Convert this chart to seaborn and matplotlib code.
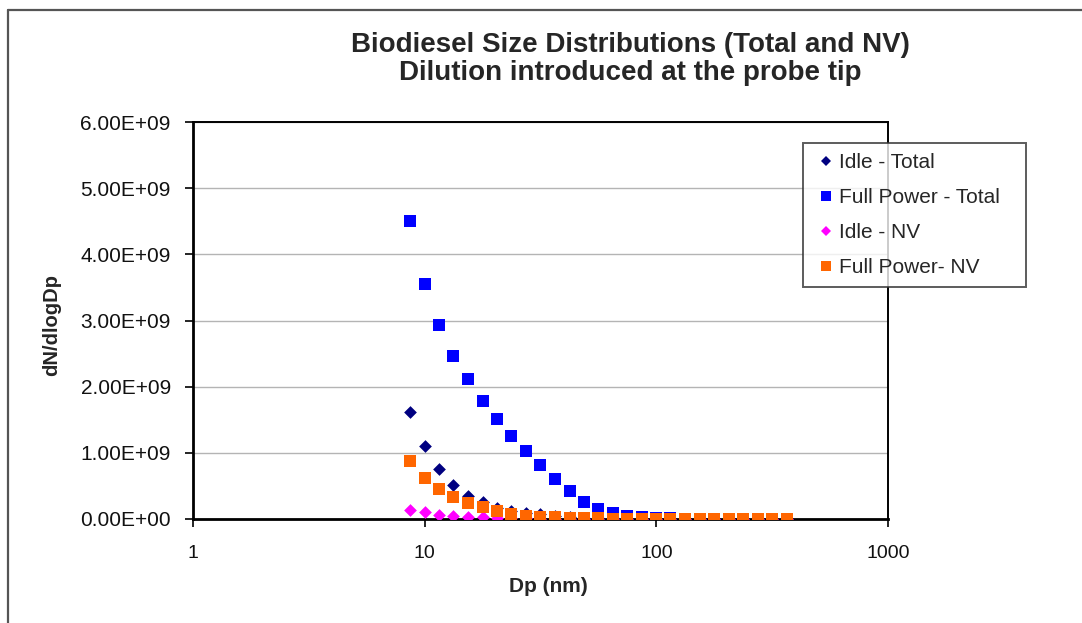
import matplotlib
matplotlib.use("Agg")
import matplotlib.pyplot as plt
import numpy as np
import pandas as pd
import seaborn as sns
from matplotlib.lines import Line2D
from matplotlib.ticker import FixedLocator, FuncFormatter, NullLocator

# Particle diameters (nm), 16 channels per decade
dp_nm = [8.66, 10.0, 11.5, 13.3, 15.4, 17.8, 20.5, 23.7, 27.4, 31.6, 36.5, 42.2,
         48.7, 56.2, 64.9, 75.0, 86.6, 100, 115, 133, 154, 178, 205, 237, 274,
         316, 365]

# dN/dlogDp for each condition
idle_total = [1.62e9, 1.10e9, 0.76e9, 0.51e9, 0.35e9, 0.25e9, 0.17e9, 0.12e9,
              0.09e9, 0.07e9, 0.05e9, 0.035e9, 0.02e9, 0.012e9, 0.008e9, 0.005e9,
              0.004e9, 0.003e9, 0.002e9, 0.002e9, 0.001e9, 0.001e9, 0.001e9,
              0.001e9, 0.001e9, 0.001e9, 0.001e9]
full_total = [4.51e9, 3.55e9, 2.93e9, 2.47e9, 2.11e9, 1.79e9, 1.51e9, 1.25e9,
              1.03e9, 0.82e9, 0.60e9, 0.42e9, 0.26e9, 0.15e9, 0.09e9, 0.05e9,
              0.025e9, 0.012e9, 0.008e9, 0.006e9, 0.005e9, 0.004e9, 0.004e9,
              0.003e9, 0.003e9, 0.002e9, 0.002e9]
idle_nv = [0.14e9, 0.10e9, 0.065e9, 0.045e9, 0.035e9, 0.025e9, 0.018e9, 0.012e9,
           0.008e9, 0.006e9, 0.004e9, 0.003e9, 0.002e9, 0.002e9, 0.001e9, 0.001e9,
           0.001e9, 0.001e9, 0.001e9, 0.001e9, 0.001e9, 0.001e9, 0.001e9,
           0.001e9, 0.001e9, 0.001e9, 0.001e9]
full_nv = [0.88e9, 0.62e9, 0.46e9, 0.34e9, 0.24e9, 0.18e9, 0.12e9, 0.08e9,
           0.05e9, 0.035e9, 0.025e9, 0.018e9, 0.012e9, 0.009e9, 0.007e9, 0.006e9,
           0.005e9, 0.005e9, 0.004e9, 0.004e9, 0.004e9, 0.003e9, 0.003e9,
           0.003e9, 0.002e9, 0.002e9, 0.002e9]

series_names = ["Idle - Total", "Full Power - Total", "Idle - NV", "Full Power- NV"]
series_values = [idle_total, full_total, idle_nv, full_nv]

x_ticks = [1, 10, 100, 1000]
x_tick_labels = ["1", "10", "100", "1000"]
y_ticks = [0, 1e9, 2e9, 3e9, 4e9, 5e9, 6e9]

title_text = "Biodiesel Size Distributions (Total and NV)\nDilution introduced at the probe tip"
x_label = "Dp (nm)"
y_label = "dN/dlogDp"

# marker styles: colour, marker, scatter size, legend marker size
styles = {
    "Idle - Total": ("#000080", "D", 42, 5.4),
    "Full Power - Total": ("#0000FF", "s", 82, 7.0),
    "Idle - NV": ("#FF00FF", "D", 42, 5.4),
    "Full Power- NV": ("#FF6600", "s", 82, 7.0),
}

df = pd.DataFrame({
    "Dp": np.tile(dp_nm, len(series_names)),
    "value": np.concatenate(series_values),
    "series": np.repeat(series_names, len(dp_nm)),
})

sns.set_theme(style="white")
plt.rcParams["font.family"] = ["Liberation Sans", "DejaVu Sans"]

W, H = 1082, 623
fig = plt.figure(figsize=(W / 100, H / 100), dpi=100)
fig.patch.set_facecolor("white")

ax = fig.add_axes([193 / W, 1 - 519 / H, (888 - 193) / W, (519 - 122) / H])
ax.set_xscale("log")

for i, name in enumerate(series_names):
    color, marker, size, _ = styles[name]
    sns.scatterplot(data=df[df["series"] == name], x="Dp", y="value",
                    color=color, marker=marker, s=size, linewidth=0,
                    ax=ax, legend=False, zorder=3 + i)

ax.set_xlim(1, 1000)
ax.set_ylim(0, 6e9)
ax.xaxis.set_major_locator(FixedLocator(x_ticks))
ax.xaxis.set_minor_locator(NullLocator())
ax.set_xticklabels(x_tick_labels)
ax.yaxis.set_major_locator(FixedLocator(y_ticks))
ax.yaxis.set_major_formatter(FuncFormatter(lambda v, p: f"{v:.2E}"))

ax.grid(axis="y", color="#b4b4b4", linewidth=1.0, zorder=0)
ax.grid(axis="x", visible=False)
ax.set_axisbelow(True)

for side in ["left", "bottom"]:
    ax.spines[side].set_color("black")
    ax.spines[side].set_linewidth(2.0)
for side in ["top", "right"]:
    ax.spines[side].set_color("black")
    ax.spines[side].set_linewidth(1.4)

ax.tick_params(axis="y", which="major", direction="out", length=6, width=1.2,
               color="black", left=True, labelsize=15, pad=10, labelcolor="#111111")
ax.tick_params(axis="x", which="major", direction="out", length=6, width=1.2,
               color="black", bottom=True, labelsize=14, pad=13, labelcolor="#111111")

ax.set_xlabel("")
ax.set_ylabel("")
fig.text(548 / W, 1 - 587 / H, x_label, ha="center", va="center",
         fontsize=15, fontweight="bold")
fig.text(52 / W, 1 - 325 / H, y_label, ha="center", va="center",
         rotation=90, fontsize=14.5, fontweight="bold")
fig.text(630 / W, 1 - 59 / H, title_text, ha="center", va="center",
         fontsize=20, fontweight="bold", linespacing=1.12)

handles = [Line2D([], [], linestyle="none", marker=styles[n][1],
                  markersize=styles[n][3], markerfacecolor=styles[n][0],
                  markeredgewidth=0) for n in series_names]
leg = ax.legend(handles, series_names, loc="upper left",
                bbox_to_anchor=(803 / W, 1 - 283 / H, (1026 - 803) / W, (283 - 143) / H),
                bbox_transform=fig.transFigure, mode="expand", borderaxespad=0,
                fontsize=15, frameon=True, fancybox=False, labelspacing=0.76,
                borderpad=0.5, handlelength=1.2, handletextpad=0.05)
leg.get_frame().set_edgecolor("#333333")
leg.get_frame().set_linewidth(1.4)
leg.set_zorder(20)

# chart area border
fig.add_artist(Line2D([7.5 / W, 7.5 / W], [0, 1 - 9.5 / H], transform=fig.transFigure,
                      color="#555555", linewidth=1.6))
fig.add_artist(Line2D([7.5 / W, 1], [1 - 9.5 / H, 1 - 9.5 / H], transform=fig.transFigure,
                      color="#555555", linewidth=1.6))

fig.savefig("out.png", dpi=100, facecolor="white")
